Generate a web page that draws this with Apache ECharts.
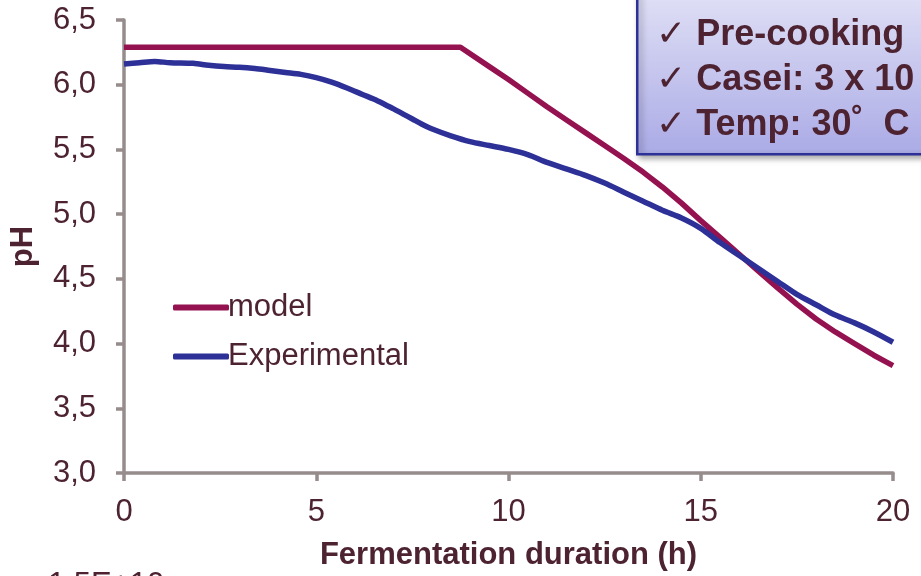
<!DOCTYPE html>
<html><head><meta charset="utf-8">
<script src="https://cdn.jsdelivr.net/npm/echarts@6/dist/echarts.min.js"></script>
<style>html,body{margin:0;padding:0;background:#fff}#c{width:921px;height:576px}</style>
</head><body><div id="c"></div>
<script>
const xTicks = [0, 5, 10, 15, 20];
const yTicks = ['3,0','3,5','4,0','4,5','5,0','5,5','6,0','6,5'];
const modelX = [0, 8.75, 9.5, 10, 10.5, 11, 11.5, 12, 12.5, 13, 13.5, 14, 14.5, 15, 15.5, 16, 16.5, 17, 17.5, 18, 18.5, 19, 19.5, 20];
const modelY = [6.29, 6.29, 6.14, 6.04, 5.935, 5.83, 5.73, 5.63, 5.53, 5.43, 5.325, 5.21, 5.085, 4.95, 4.82, 4.69, 4.56, 4.43, 4.305, 4.19, 4.09, 4.00, 3.91, 3.83];
const expX = [0, 0.4, 0.8, 1.2, 1.8, 2.2, 2.6, 3.0, 3.4, 3.8, 4.2, 4.6, 5.0, 5.4, 5.8, 6.2, 6.6, 7.0, 7.25, 7.5, 7.75, 8.0, 8.5, 9.0, 9.5, 10.0, 10.5, 11.0, 11.5, 12.0, 12.5, 13.0, 13.5, 14.0, 14.5, 15.0, 15.5, 16.0, 16.5, 17.0, 17.5, 18.0, 18.5, 19.0, 19.5, 20.0];
const expY = [6.16, 6.17, 6.18, 6.17, 6.165, 6.15, 6.14, 6.135, 6.125, 6.11, 6.095, 6.08, 6.055, 6.02, 5.975, 5.925, 5.875, 5.815, 5.775, 5.735, 5.695, 5.66, 5.605, 5.56, 5.53, 5.50, 5.46, 5.40, 5.35, 5.30, 5.24, 5.17, 5.10, 5.03, 4.97, 4.89, 4.78, 4.68, 4.58, 4.48, 4.38, 4.30, 4.22, 4.16, 4.09, 4.01];
const seriesNames = ['model', 'Experimental'];
const boxLines = ['\u2713 Milk: 10%', '\u2713 Pre-cooking', '\u2713 Casei: 3 x 10', '\u2713 Temp: 30\u02DA  C'];
const bottomText = '1,5E+10';

const TXT = '#4d2331';
const FONT = '"Liberation Sans", Arial, "DejaVu Sans", sans-serif';
const AX = '#968c8c';
const chart = echarts.init(document.getElementById('c'));
const zip = (xs, ys) => xs.map((x, i) => [x, ys[i]]);
chart.setOption({
  animation: false,
  textStyle: { fontFamily: FONT },
  grid: { left: 120, right: 28, top: 20, bottom: 103, containLabel: false },
  legend: {
    orient: 'vertical', left: 168, top: 287,
    icon: 'roundRect', itemWidth: 56, itemHeight: 6, itemGap: 18,
    textStyle: { fontSize: 31, color: TXT, fontFamily: FONT, padding: [0, 0, 0, -6] },
    data: seriesNames
  },
  xAxis: {
    type: 'value', min: 0, max: 20, interval: 5,
    name: 'Fermentation duration (h)', nameLocation: 'middle', nameGap: 67,
    nameTextStyle: { fontSize: 31, fontWeight: 'bold', color: TXT, fontFamily: FONT },
    axisLine: { show: true, lineStyle: { color: AX, width: 3.5 } },
    axisTick: { show: true, length: 8, lineStyle: { color: AX, width: 3.5 } },
    axisLabel: { fontSize: 31, color: TXT, margin: 24, fontFamily: FONT, formatter: v => xTicks.includes(v) ? String(v) : '' },
    splitLine: { show: false }
  },
  yAxis: {
    type: 'value', min: 3, max: 6.5, interval: 0.5,
    name: 'pH', nameLocation: 'middle', nameGap: 85, nameRotate: 90,
    nameTextStyle: { fontSize: 31, fontWeight: 'bold', color: TXT, fontFamily: FONT },
    axisLine: { show: true, lineStyle: { color: AX, width: 3.5 } },
    axisTick: { show: true, length: 8, lineStyle: { color: AX, width: 3.5 } },
    axisLabel: { fontSize: 31, color: TXT, margin: 28, fontFamily: FONT, formatter: v => yTicks[Math.round((v - 3) / 0.5)] },
    splitLine: { show: false }
  },
  series: [
    { name: seriesNames[0], type: 'line', data: zip(modelX, modelY), showSymbol: false, smooth: false,
      lineStyle: { color: '#951250', width: 5.5 }, itemStyle: { color: '#951250' }, z: 3 },
    { name: seriesNames[1], type: 'line', data: zip(expX, expY), showSymbol: false, smooth: 0.3,
      lineStyle: { color: '#2d3096', width: 5.5 }, itemStyle: { color: '#2d3096' }, z: 4 }
  ],
  graphic: [
    { type: 'rect', left: 636, top: -20, z: 10,
      shape: { width: 320, height: 173 },
      style: {
        fill: new echarts.graphic.LinearGradient(0, 0, 0, 1, [{ offset: 0, color: '#e4e4f7' }, { offset: 1, color: '#aaaae6' }]),
        stroke: '#2d3096', lineWidth: 2.5,
        shadowBlur: 6, shadowColor: 'rgba(0,0,0,0.35)', shadowOffsetX: 3, shadowOffsetY: 3
      } },
    ...boxLines.map((t, i) => ({
      type: 'text', left: 656, top: -28 + i * 45, z: 11,
      style: { text: t, font: 'bold 36px ' + FONT, fill: TXT }
    })),
    { type: 'text', left: 48, top: 570, z: 11,
      style: { text: bottomText, font: '31px ' + FONT, fill: TXT } }
  ]
});
</script></body></html>
